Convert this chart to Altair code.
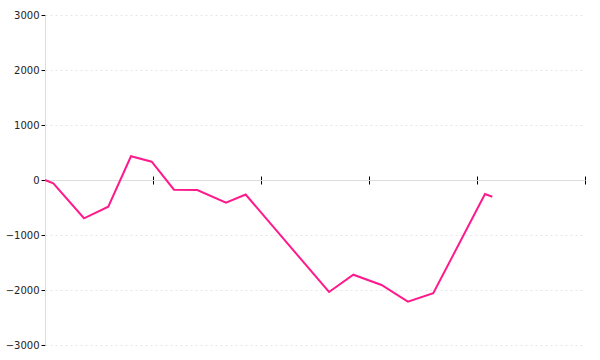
import altair as alt
import pandas as pd

# x positions in units where each unlabeled tick interval = 10
x_vals = [0, 0.77, 3.61, 5.86, 7.96, 9.88, 11.94, 14.1, 16.76, 18.58,
          26.3, 28.55, 31.16, 33.6, 35.95, 40.74, 41.42]
y_vals = [0, -60, -696, -485, 431, 333, -176, -182, -413, -264,
          -2036, -1722, -1909, -2213, -2060, -255, -304]
x_ticks = [0, 10, 20, 30, 40, 50]
y_ticks = [-3000, -2000, -1000, 0, 1000, 2000, 3000]

df = pd.DataFrame({"x": x_vals, "y": y_vals})

xscale = alt.Scale(domain=[0, 50], nice=False, zero=False)
yscale = alt.Scale(domain=[-3000, 3000], nice=False)

y_axis = alt.Axis(values=y_ticks, format="d", title=None, grid=True,
                  gridDash=[2, 3], gridColor="#e6e6e6",
                  domainColor="#dddddd", tickColor="black",
                  tickSize=4, labelPadding=2,
                  labelFont="DejaVu Sans", labelFontSize=10,
                  labelColor="#222222")

base = alt.Chart(df)

line = base.mark_line(color="#ff1a8c", strokeWidth=2).encode(
    x=alt.X("x:Q", scale=xscale,
            axis=alt.Axis(orient="bottom", offset=-165, values=x_ticks,
                          labels=False, title=None, grid=False,
                          domainColor="#dddddd", domainWidth=1,
                          tickColor="black", tickSize=4, tickWidth=1)),
    y=alt.Y("y:Q", scale=yscale, axis=y_axis),
)

top = base.mark_line(opacity=0).encode(
    x=alt.X("x:Q", scale=xscale,
            axis=alt.Axis(orient="top", offset=-165, values=x_ticks,
                          labels=False, title=None, grid=False, domain=False,
                          tickColor="black", tickSize=4, tickWidth=1)),
    y=alt.Y("y:Q", scale=yscale, axis=y_axis),
)

chart = alt.layer(top, line).resolve_axis(x="independent").properties(
    width=540, height=330,
    autosize=alt.AutoSizeParams(type="none"),
    padding={"left": 45, "top": 15, "right": 15, "bottom": 15},
).configure_view(stroke=None)

chart.save("out.html", embed_options={"renderer": "svg", "actions": False})
